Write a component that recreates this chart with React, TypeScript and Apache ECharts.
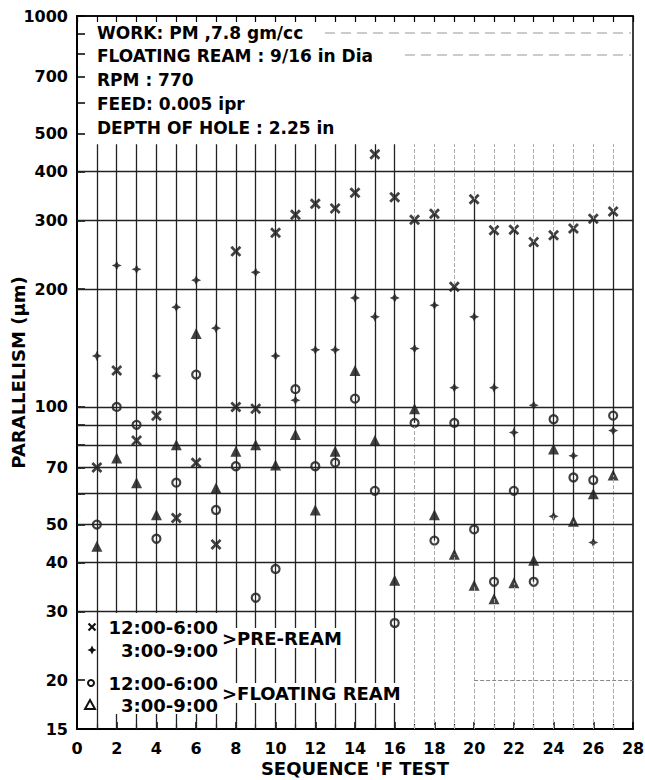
import React, { useEffect, useRef } from "react";
import * as echarts from "echarts";

// ---- data ----
const sequences = [1, 2, 3, 4, 5, 6, 7, 8, 9, 10, 11, 12, 13, 14, 15, 16, 17, 18, 19, 20, 21, 22, 23, 24, 25, 26, 27];

// Pre-ream, 12:00-6:00 (x marks)
const preXSeq = [1, 2, 3, 4, 5, 6, 7, 8, 8, 9, 10, 11, 12, 13, 14, 15, 16, 17, 18, 19, 20, 21, 22, 23, 24, 25, 26, 27];
const preXVal = [70, 124, 82, 95, 52, 72, 44.5, 250, 100, 99, 279, 310, 331, 322, 353, 443, 344, 301, 312, 203, 340, 283, 284, 264, 275, 286, 303, 316];

// Pre-ream, 3:00-9:00 (+ marks)
const prePlusSeq = [1, 2, 3, 4, 5, 6, 7, 9, 10, 11, 12, 13, 14, 15, 16, 17, 18, 19, 20, 21, 22, 23, 24, 25, 26, 27];
const prePlusVal = [135, 230, 225, 120, 180, 211, 159, 221, 135, 104, 140, 140, 190, 170, 190, 141, 182, 112, 170, 112, 86, 101, 52.5, 75, 45, 87];

// Floating ream, 12:00-6:00 (circles)
const floatOVal = [50, 100, 90, 46, 64, 121, 54.5, 70.5, 32.5, 38.5, 111, 70.5, 72, 105, 61, 28, 91, 45.5, 91, 48.6, 35.7, 61, 35.7, 93, 66, 65, 95];

// Floating ream, 3:00-9:00 (triangles)
const floatTriVal = [44, 74, 64, 53, 80, 154, 62, 77, 80, 71, 85, 54.5, 77, 124, 82, 36, 99, 53, 42, 35, 32.3, 35.5, 40.5, 78, 51, 60, 67];

const yLabelValues = [15, 20, 30, 40, 50, 70, 100, 200, 300, 400, 500, 700, 1000];
const yTickValues = [15, 20, 30, 40, 50, 60, 70, 80, 90, 100, 200, 300, 400, 500, 600, 700, 800, 900, 1000];
const gridValues = [30, 40, 50, 60, 70, 80, 90, 100, 200, 300, 400];
const stemRange = [15, 470];
const solidStemLast = 16;

const notes = ["WORK: PM ,7.8 gm/cc", "FLOATING REAM : 9/16 in Dia", "RPM : 770", "FEED: 0.005 ipr", "DEPTH OF HOLE : 2.25 in"];
const legendTimes = ["12:00-6:00", "3:00-9:00", "12:00-6:00", "3:00-9:00"];
const legendGroups = [">PRE-REAM", ">FLOATING REAM"];

// ---- styling ----
const FONT = "'DejaVu Sans', 'Noto Sans', sans-serif";
const INK = "#111";
const X_POINTS = [[0, 1.8], [1.8, 0], [5, 3.2], [8.2, 0], [10, 1.8], [6.8, 5], [10, 8.2], [8.2, 10], [5, 6.8], [1.8, 10], [0, 8.2], [3.2, 5]];
const STAR_POINTS = [[5, 0], [6.6, 3.4], [10, 5], [6.6, 6.6], [5, 10], [3.4, 6.6], [0, 5], [3.4, 3.4]];
const toPath = (pts: number[][]) => "path://M" + pts.map((p) => p.join(",")).join(" L") + " Z";
const place = (pts: number[][], cx: number, cy: number, s: number) => pts.map((p) => [cx + (p[0] - 5) * s, cy + (p[1] - 5) * s]);

const pairs = (xs: number[], ys: number[]) => xs.map((x, i) => [x, ys[i]]);

function buildOption() {
  const allPts = [
    ...pairs(preXSeq, preXVal),
    ...pairs(prePlusSeq, prePlusVal),
    ...pairs(sequences, floatOVal),
    ...pairs(sequences, floatTriVal),
  ];
  const darkStems = sequences
    .filter((s) => s <= solidStemLast)
    .map((s) => [{ coord: [s, stemRange[0]] }, { coord: [s, stemRange[1]] }]);
  const lightStems = sequences
    .filter((s) => s > solidStemLast)
    .map((s) => [{ coord: [s, stemRange[0]] }, { coord: [s, stemRange[1]] }]);
  const rangeStems = sequences
    .filter((s) => s > solidStemLast)
    .map((s) => {
      const vals = allPts.filter((p) => p[0] === s).map((p) => p[1]);
      return [{ coord: [s, Math.min(...vals)] }, { coord: [s, Math.max(...vals)] }];
    });

  const mk = (data: any[], color: string, width: number, type: string) => ({
    type: "line",
    data: [],
    z: 1,
    silent: true,
    markLine: {
      silent: true,
      symbol: ["none", "none"],
      label: { show: false },
      emphasis: { disabled: true },
      lineStyle: { color, width, type },
      data,
    },
  });

  const textEl = (text: string, x: number, y: number, size: number, align = "left", bg?: string) => ({
    type: "text",
    x,
    y,
    z: 12,
    style: {
      text,
      x: 0,
      y: 0,
      fill: "#000",
      fontFamily: FONT,
      fontWeight: "bold",
      fontSize: size,
      align,
      verticalAlign: "middle",
      textAlign: align,
      textVerticalAlign: "middle",
      backgroundColor: bg,
      padding: bg ? [1, 2] : 0,
    },
  });

  const noteYs = [33, 56, 80, 104, 128];
  const legendYs = [627, 650, 683, 705];

  return {
    animation: false,
    backgroundColor: "#fff",
    grid: {
      left: 77,
      right: 12,
      top: 16,
      bottom: 51,
      containLabel: false,
      outerBoundsMode: "none",
      show: true,
      borderColor: "#000",
      borderWidth: 1.5,
    },
    xAxis: [
      {
        type: "value",
        min: 0,
        max: 28,
        interval: 2,
        position: "bottom",
        name: "SEQUENCE 'F TEST",
        nameLocation: "middle",
        nameGap: 30,
        nameMoveOverlap: false,
        nameTextStyle: { color: "#000", fontFamily: FONT, fontWeight: "bold", fontSize: 18, verticalAlign: "top", padding: 0 },
        axisLine: { show: true, onZero: false, lineStyle: { color: "#000", width: 2 } },
        axisTick: { show: true, inside: true, length: 7, lineStyle: { color: "#000", width: 1.5 } },
        minorTick: { show: true, splitNumber: 2, length: 5, lineStyle: { color: "#000", width: 1.2 } },
        axisLabel: { color: "#000", fontFamily: FONT, fontWeight: "bold", fontSize: 16, margin: 11, showMinLabel: true, showMaxLabel: true },
        splitLine: { show: false },
      },
      {
        type: "value",
        min: 0,
        max: 28,
        interval: 1,
        position: "top",
        axisLine: { show: true, onZero: false, lineStyle: { color: "#000", width: 1.5 } },
        axisTick: { show: true, inside: true, length: 6, lineStyle: { color: "#000", width: 1.2 } },
        axisLabel: { show: false },
        splitLine: { show: false },
      },
    ],
    yAxis: {
      type: "log",
      logBase: 10,
      min: 15,
      max: 1000,
      name: "PARALLELISM (μm)",
      nameLocation: "middle",
      nameGap: 59,
      nameRotate: 90,
      nameMoveOverlap: false,
      nameTextStyle: { color: "#000", fontFamily: FONT, fontWeight: "bold", fontSize: 18, verticalAlign: "middle", padding: 0 },
      axisLine: { show: true, onZero: false, lineStyle: { color: "#000", width: 2 } },
      axisTick: { show: true, inside: true, length: 8, customValues: yTickValues, lineStyle: { color: "#000", width: 1.5 } },
      minorTick: { show: false },
      axisLabel: {
        customValues: yLabelValues,
        formatter: (v: number) => String(Math.round(v)),
        color: "#000",
        fontFamily: FONT,
        fontWeight: "bold",
        fontSize: 16,
        margin: 9,
      },
      splitLine: { show: false },
    },
    series: [
      mk(darkStems, "#222", 1.3, "solid"),
      mk(lightStems, "#aaa", 1, "dashed"),
      mk(rangeStems, "#222", 1.3, "solid"),
      mk(gridValues.map((v) => ({ yAxis: v })), "#222", 1.3, "solid"),
      mk([[{ coord: [20, 20] }, { coord: [28, 20] }]], "#888", 1, "dashed"),
      {
        name: "Pre-ream 12:00-6:00",
        type: "scatter",
        z: 4,
        symbol: toPath(X_POINTS),
        symbolSize: 11,
        itemStyle: { color: INK },
        data: pairs(preXSeq, preXVal),
      },
      {
        name: "Pre-ream 3:00-9:00",
        type: "scatter",
        z: 4,
        symbol: toPath(STAR_POINTS),
        symbolSize: 10,
        itemStyle: { color: INK },
        data: pairs(prePlusSeq, prePlusVal),
      },
      {
        name: "Floating ream 12:00-6:00",
        type: "scatter",
        z: 4,
        symbol: "circle",
        symbolSize: 8,
        itemStyle: { color: "#fff", borderColor: INK, borderWidth: 2.2 },
        data: pairs(sequences, floatOVal),
      },
      {
        name: "Floating ream 3:00-9:00",
        type: "scatter",
        z: 4,
        symbol: "triangle",
        symbolSize: 11,
        itemStyle: { color: INK },
        data: pairs(sequences, floatTriVal),
      },
    ],
    graphic: [
      { type: "line", z: 6, shape: { x1: 325, y1: 33, x2: 631, y2: 33 }, style: { stroke: "#999", lineWidth: 1, lineDash: [10, 6] } },
      { type: "line", z: 6, shape: { x1: 405, y1: 55, x2: 631, y2: 55 }, style: { stroke: "#999", lineWidth: 1, lineDash: [10, 6] } },
      ...notes.map((t, i) => textEl(t, 97, noteYs[i], 17)),
      { type: "rect", z: 10, shape: { x: 101, y: 613, width: 121, height: 101 }, style: { fill: "#fff" } },
      { type: "polygon", z: 12, shape: { points: place(X_POINTS, 92, legendYs[0], 0.85) }, style: { fill: INK } },
      { type: "polygon", z: 12, shape: { points: place(STAR_POINTS, 92, legendYs[1], 0.9) }, style: { fill: INK } },
      { type: "circle", z: 12, shape: { cx: 91, cy: legendYs[2], r: 3 }, style: { fill: "#fff", stroke: INK, lineWidth: 2 } },
      { type: "polygon", z: 12, shape: { points: [[90, legendYs[3] - 5], [95, legendYs[3] + 4], [85, legendYs[3] + 4]] }, style: { fill: "#fff", stroke: INK, lineWidth: 2 } },
      ...legendTimes.map((t, i) => textEl(t, 218, legendYs[i], 18, "right")),
      textEl(legendGroups[0], 220, 638, 18, "left", "#fff"),
      textEl(legendGroups[1], 220, 693, 18, "left", "#fff"),
    ],
  };
}

export default function App() {
  const ref = useRef<HTMLDivElement>(null);
  useEffect(() => {
    document.body.style.margin = "0";
    const chart = echarts.init(ref.current!, null, { renderer: "svg" });
    chart.setOption(buildOption() as any);
    return () => chart.dispose();
  }, []);
  return <div ref={ref} style={{ width: 645, height: 780 }} />;
}
